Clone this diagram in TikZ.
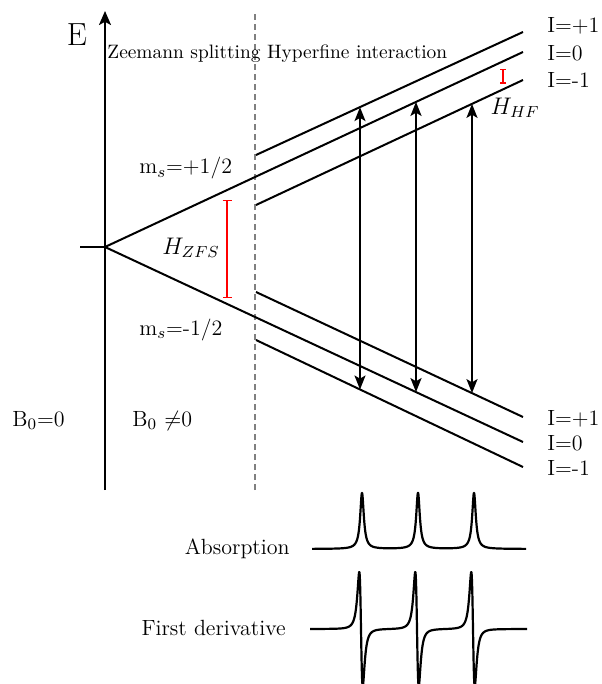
\documentclass[tikz,border=0pt]{standalone}
\usetikzlibrary{arrows.meta,calc}
\begin{document}
\begin{tikzpicture}[x=0.5pt,y=-0.5pt,
  lvl/.style={line width=1pt},
  lab/.style={font=\fontsize{11}{13}\selectfont, inner sep=0pt},
  mlab/.style={font=\fontsize{12}{14}\selectfont, inner sep=0pt},
  tip/.style={Stealth[length=7pt,width=5.5pt,inset=1.6pt]},
  trans/.style={line width=1pt, {Stealth[length=7pt,width=5.5pt,inset=1.6pt]}-{Stealth[length=7pt,width=5.5pt,inset=1.6pt]}},
  gapbar/.style={red, line width=0.75pt},
  curve/.style={line width=1.1pt, line join=round},
  declare function={lor(\u)=1/(1+(\u)*(\u)); der(\u)=(\u)/(1+(\u)*(\u))/(1+(\u)*(\u));}
]
\useasboundingbox (0,0) rectangle (601,684);
% axis and separators
\coordinate (O) at (105,247);
\coordinate (L) at (80,247);
\coordinate (Ab) at (105,490);
\coordinate (At) at (105,11);
\coordinate (Db) at (255,490);
\coordinate (Dt) at (255,14);
\draw[line width=1pt, -{Stealth[length=7pt,width=6pt,inset=1.6pt]}] (Ab) -- (At);
\draw[lvl] (L) -- (O);
\draw[gray, line width=1pt, dash pattern=on 3pt off 2pt] (Db) -- (Dt);
% levels
\coordinate (up1s) at (256,155); \coordinate (up1e) at (523,32);
\coordinate (u0e) at (523,52);
\coordinate (um1s) at (256,205); \coordinate (um1e) at (523,80);
\coordinate (lp1s) at (256,292); \coordinate (lp1e) at (523,417);
\coordinate (l0e) at (523,442);
\coordinate (lm1s) at (256,340); \coordinate (lm1e) at (523,467);
\draw[lvl] (up1s) -- (up1e);
\draw[lvl] (O) -- (u0e);
\draw[lvl] (um1s) -- (um1e);
\draw[lvl] (lp1s) -- (lp1e);
\draw[lvl] (O) -- (l0e);
\draw[lvl] (lm1s) -- (lm1e);
% transitions
\coordinate (t1a) at ($(up1s)!0.3895!(up1e)$);
\coordinate (t1b) at ($(lm1s)!0.3895!(lm1e)$);
\coordinate (t2a) at ($(O)!0.744!(u0e)$);
\coordinate (t2b) at ($(O)!0.744!(l0e)$);
\coordinate (t3a) at ($(um1s)!0.809!(um1e)$);
\coordinate (t3b) at ($(lp1s)!0.809!(lp1e)$);
\draw[trans] (t1a) -- (t1b);
\draw[trans] (t2a) -- (t2b);
\draw[trans] (t3a) -- (t3b);
% red gap bars
\coordinate (zt) at (227,200); \coordinate (zb) at (227,298);
\draw[gapbar, {Bar[width=4.5pt]}-{Bar[width=4.5pt]}] (zt) -- (zb);
\coordinate (ht) at (503,69); \coordinate (hb) at (503,84);
\draw[gapbar, {Bar[width=3pt]}-{Bar[width=3pt]}] (ht) -- (hb);
% labels
\node[font=\fontsize{16}{19}\selectfont, inner sep=0pt] (E) at (77,35) {E};
\node[font=\fontsize{9.7}{11}\selectfont, inner sep=0pt, anchor=base west] (Z) at (107,59) {Zeemann splitting Hyperfine interaction};
\node[lab, anchor=base west] (Ip1) at (547,33) {I=+1};
\node[lab, anchor=base west] (I0) at (547,61) {I=0};
\node[lab, anchor=base west] (Im1) at (547,88) {I=-1};
\node[lab, anchor=base west] (Jp1) at (547,425) {I=+1};
\node[lab, anchor=base west] (J0) at (547,450) {I=0};
\node[lab, anchor=base west] (Jm1) at (547,475) {I=-1};
\node[lab, anchor=base west] (msp) at (139,174) {m$_s$=+1/2};
\node[lab, anchor=base west] (msm) at (139,335) {m$_s$=-1/2};
\node[lab, anchor=base west] (B0) at (12,426) {B$_0$=0};
\node[lab, anchor=base west] (B1) at (132,426) {B$_0$ $\neq$0};
\node[mlab] (hz) at (191,248) {$H_{ZFS}$};
\node[mlab] (hh) at (515,108) {$H_{HF}$};
\node[lab, anchor=base east] (abs) at (290,554) {Absorption};
\node[lab, anchor=base east] (fd) at (286,635) {First derivative};
% spectra
\draw[curve] plot[domain=312:526, samples=1071] (\x, {549-56*(lor((\x-362)/2.2)+lor((\x-418)/2.2)+lor((\x-474)/2.2))});
\draw[curve] plot[domain=310:527, samples=1086] (\x, {629+175.5*(der((\x-361)/3)+der((\x-417)/3)+der((\x-473)/3))});
\end{tikzpicture}
\end{document}
